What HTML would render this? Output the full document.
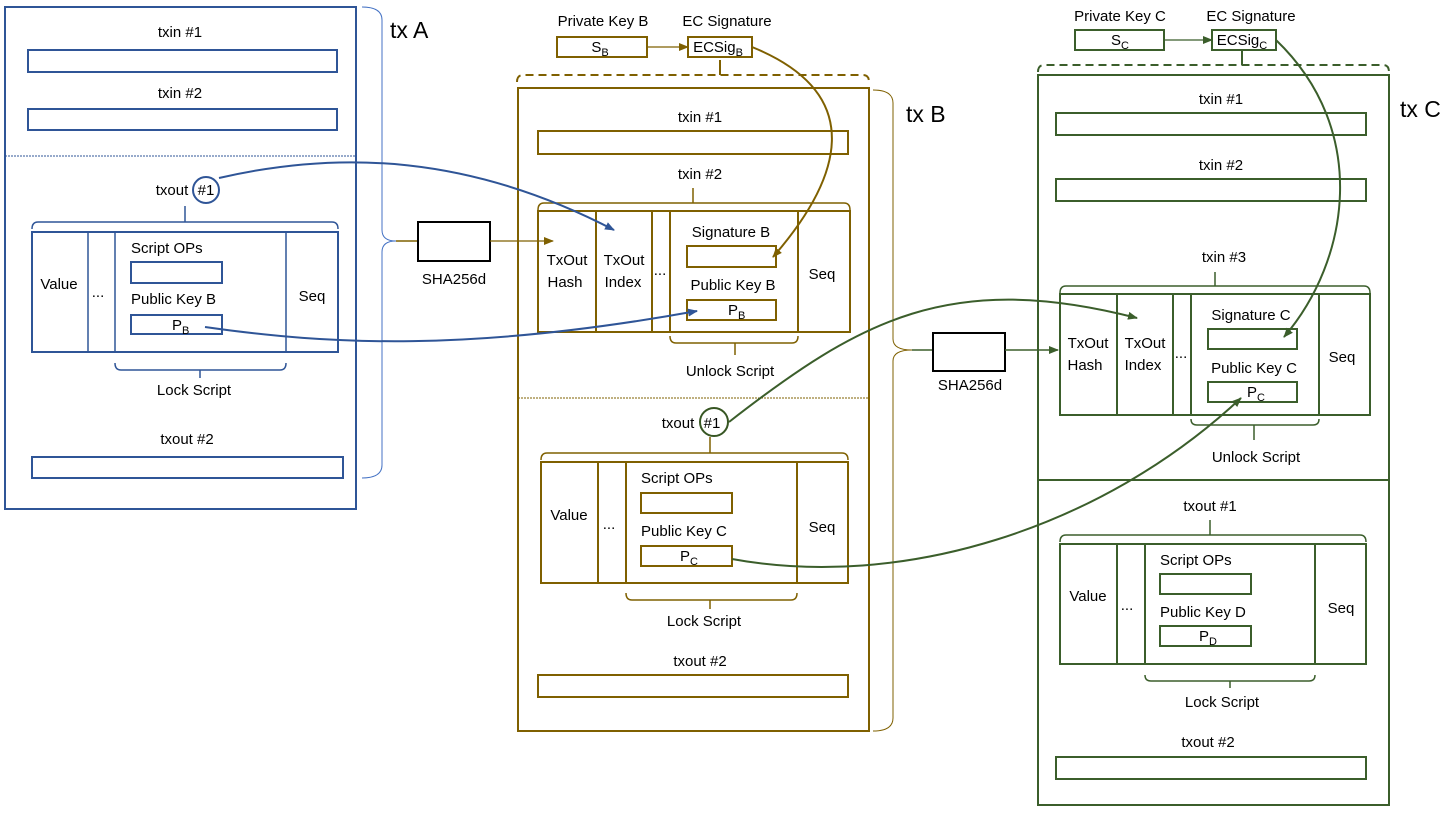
<!DOCTYPE html>
<html><head><meta charset="utf-8"><style>
html,body{margin:0;padding:0;background:#fff;}
svg{display:block;font-family:"Liberation Sans",sans-serif;}
text{font-size:15px;fill:#000;}
</style></head><body>
<svg width="1455" height="818" viewBox="0 0 1455 818" xmlns="http://www.w3.org/2000/svg">
<defs>
<marker id="ab" markerWidth="10" markerHeight="8" refX="9" refY="4" orient="auto" markerUnits="userSpaceOnUse"><path d="M0,0 L10,4 L0,8z" fill="#2F5597"/></marker>
<marker id="ag" markerWidth="10" markerHeight="8" refX="9" refY="4" orient="auto" markerUnits="userSpaceOnUse"><path d="M0,0 L10,4 L0,8z" fill="#7F6000"/></marker>
<marker id="an" markerWidth="10" markerHeight="8" refX="9" refY="4" orient="auto" markerUnits="userSpaceOnUse"><path d="M0,0 L10,4 L0,8z" fill="#3B5E2B"/></marker>
</defs>

<!-- ===== tx A (blue) ===== -->
<g fill="none" stroke="#2F5597" stroke-width="2">
<rect x="5" y="7" width="351" height="502"/>
<rect x="28" y="50" width="309" height="22"/>
<rect x="28" y="109" width="309" height="21"/>
<rect x="32" y="232" width="306" height="120"/>
<line x1="88" y1="232" x2="88" y2="352" stroke-width="1.5"/>
<line x1="115" y1="232" x2="115" y2="352" stroke-width="1.5"/>
<line x1="286" y1="232" x2="286" y2="352" stroke-width="1.5"/>
<rect x="131" y="262" width="91" height="21"/>
<rect x="131" y="315" width="91" height="19"/>
<rect x="32" y="457" width="311" height="21"/>
<circle cx="206" cy="190" r="13"/>
<path d="M32,229 Q32,222 38,222 L332,222 Q338,222 338,229" stroke-width="1.5"/>
<line x1="185" y1="222" x2="185" y2="206" stroke-width="1.5"/>
<path d="M115,363 Q115,370 121,370 L280,370 Q286,370 286,363" stroke-width="1.5"/>
<line x1="200" y1="370" x2="200" y2="378" stroke-width="1.5"/>
</g>
<line x1="5" y1="156" x2="356" y2="156" stroke="#2F5597" stroke-width="1" stroke-dasharray="2,1"/>
<path d="M362,7 Q382,7 382,20 L382,230 Q382,241 396,241 Q382,241 382,252 L382,465 Q382,478 362,478" fill="none" stroke="#4472C4" stroke-width="1"/>
<text x="180" y="37" text-anchor="middle">txin #1</text>
<text x="180" y="98" text-anchor="middle">txin #2</text>
<text x="172" y="195" text-anchor="middle">txout</text>
<text x="206" y="195" text-anchor="middle">#1</text>
<text x="59" y="289" text-anchor="middle">Value</text>
<text x="98" y="297" text-anchor="middle">...</text>
<text x="131" y="253">Script OPs</text>
<text x="131" y="304">Public Key B</text>
<text x="172" y="330">P<tspan font-size="11" dy="4">B</tspan></text>
<text x="312" y="301" text-anchor="middle">Seq</text>
<text x="194" y="395" text-anchor="middle">Lock Script</text>
<text x="187" y="444" text-anchor="middle">txout #2</text>
<text x="390" y="38" style="font-size:23px">tx A</text>

<!-- SHA A -->
<line x1="396" y1="241" x2="418" y2="241" stroke="#7F6000" stroke-width="1.5"/>
<rect x="418" y="222" width="72" height="39" fill="none" stroke="#000" stroke-width="2"/>
<text x="454" y="284" text-anchor="middle">SHA256d</text>
<line x1="490" y1="241" x2="553" y2="241" stroke="#7F6000" stroke-width="1.2" marker-end="url(#ag)"/>

<!-- ===== tx B (gold) ===== -->
<text x="603" y="26" text-anchor="middle">Private Key B</text>
<text x="727" y="26" text-anchor="middle">EC Signature</text>
<g fill="none" stroke="#7F6000" stroke-width="2">
<rect x="557" y="37" width="90" height="20"/>
<rect x="688" y="37" width="64" height="20"/>
<rect x="518" y="88" width="351" height="643"/>
<rect x="538" y="131" width="310" height="23"/>
<rect x="538" y="211" width="312" height="121"/>
<line x1="596" y1="211" x2="596" y2="332"/>
<line x1="652" y1="211" x2="652" y2="332"/>
<line x1="670" y1="211" x2="670" y2="332"/>
<line x1="798" y1="211" x2="798" y2="332"/>
<rect x="687" y="246" width="89" height="21"/>
<rect x="687" y="300" width="89" height="20"/>
<rect x="541" y="462" width="307" height="121"/>
<line x1="598" y1="462" x2="598" y2="583"/>
<line x1="626" y1="462" x2="626" y2="583"/>
<line x1="797" y1="462" x2="797" y2="583"/>
<rect x="641" y="493" width="91" height="20"/>
<rect x="641" y="546" width="91" height="20"/>
<rect x="538" y="675" width="310" height="22"/>
<path d="M517,82 Q517,75 523,75 L863,75 Q869,75 869,82" stroke-dasharray="8,5"/>
<line x1="720" y1="75" x2="720" y2="60"/>
<path d="M538,210 Q538,203 544,203 L844,203 Q850,203 850,210" stroke-width="1.5"/>
<line x1="693" y1="203" x2="693" y2="188" stroke-width="1.5"/>
<path d="M670,336 Q670,343 676,343 L792,343 Q798,343 798,336" stroke-width="1.5"/>
<line x1="735" y1="343" x2="735" y2="355" stroke-width="1.5"/>
<path d="M541,460 Q541,453 547,453 L842,453 Q848,453 848,460" stroke-width="1.5"/>
<line x1="710" y1="453" x2="710" y2="437" stroke-width="1.5"/>
<path d="M626,593 Q626,600 632,600 L791,600 Q797,600 797,593" stroke-width="1.5"/>
<line x1="710" y1="600" x2="710" y2="609" stroke-width="1.5"/>
</g>
<circle cx="714" cy="422" r="14" fill="none" stroke="#375623" stroke-width="2"/>
<line x1="518" y1="398" x2="869" y2="398" stroke="#7F6000" stroke-width="1" stroke-dasharray="2,1"/>
<path d="M873,90 Q893,90 893,103 L893,339 Q893,350 912,350 Q893,350 893,361 L893,718 Q893,731 873,731" fill="none" stroke="#7F6000" stroke-width="1"/>
<line x1="647" y1="47" x2="688" y2="47" stroke="#7F6000" stroke-width="1.2" marker-end="url(#ag)"/>
<text x="600" y="52" text-anchor="middle">S<tspan font-size="11" dy="4">B</tspan></text>
<text x="718" y="52" text-anchor="middle">ECSig<tspan font-size="11" dy="4">B</tspan></text>
<text x="700" y="122" text-anchor="middle">txin #1</text>
<text x="700" y="179" text-anchor="middle">txin #2</text>
<text x="567" y="265" text-anchor="middle">TxOut</text>
<text x="565" y="287" text-anchor="middle">Hash</text>
<text x="624" y="265" text-anchor="middle">TxOut</text>
<text x="623" y="287" text-anchor="middle">Index</text>
<text x="660" y="275" text-anchor="middle">...</text>
<text x="731" y="237" text-anchor="middle">Signature B</text>
<text x="733" y="290" text-anchor="middle">Public Key B</text>
<text x="728" y="315">P<tspan font-size="11" dy="4">B</tspan></text>
<text x="822" y="279" text-anchor="middle">Seq</text>
<text x="730" y="376" text-anchor="middle">Unlock Script</text>
<text x="678" y="428" text-anchor="middle">txout</text>
<text x="712" y="428" text-anchor="middle">#1</text>
<text x="569" y="520" text-anchor="middle">Value</text>
<text x="609" y="529" text-anchor="middle">...</text>
<text x="641" y="483">Script OPs</text>
<text x="641" y="536">Public Key C</text>
<text x="680" y="561">P<tspan font-size="11" dy="4">C</tspan></text>
<text x="822" y="532" text-anchor="middle">Seq</text>
<text x="704" y="626" text-anchor="middle">Lock Script</text>
<text x="700" y="666" text-anchor="middle">txout #2</text>
<text x="906" y="122" style="font-size:23px">tx B</text>

<!-- SHA B -->
<line x1="912" y1="350" x2="933" y2="350" stroke="#3B5E2B" stroke-width="1.5"/>
<rect x="933" y="333" width="72" height="38" fill="none" stroke="#000" stroke-width="2"/>
<text x="970" y="390" text-anchor="middle">SHA256d</text>
<line x1="1005" y1="350" x2="1058" y2="350" stroke="#3B5E2B" stroke-width="1.5" marker-end="url(#an)"/>

<!-- ===== tx C (green) ===== -->
<text x="1120" y="21" text-anchor="middle">Private Key C</text>
<text x="1251" y="21" text-anchor="middle">EC Signature</text>
<g fill="none" stroke="#3B5E2B" stroke-width="2">
<rect x="1075" y="30" width="89" height="20"/>
<rect x="1212" y="30" width="64" height="20"/>
<rect x="1038" y="75" width="351" height="730"/>
<rect x="1056" y="113" width="310" height="22"/>
<rect x="1056" y="179" width="310" height="22"/>
<rect x="1060" y="294" width="310" height="121"/>
<line x1="1117" y1="294" x2="1117" y2="415"/>
<line x1="1173" y1="294" x2="1173" y2="415"/>
<line x1="1191" y1="294" x2="1191" y2="415"/>
<line x1="1319" y1="294" x2="1319" y2="415"/>
<rect x="1208" y="329" width="89" height="20"/>
<rect x="1208" y="382" width="89" height="20"/>
<line x1="1038" y1="480" x2="1389" y2="480"/>
<rect x="1060" y="544" width="306" height="120"/>
<line x1="1117" y1="544" x2="1117" y2="664"/>
<line x1="1145" y1="544" x2="1145" y2="664"/>
<line x1="1315" y1="544" x2="1315" y2="664"/>
<rect x="1160" y="574" width="91" height="20"/>
<rect x="1160" y="626" width="91" height="20"/>
<rect x="1056" y="757" width="310" height="22"/>
<path d="M1038,72 Q1038,65 1044,65 L1383,65 Q1389,65 1389,72" stroke-dasharray="8,5"/>
<line x1="1242" y1="65" x2="1242" y2="51"/>
<path d="M1060,293 Q1060,286 1066,286 L1364,286 Q1370,286 1370,293" stroke-width="1.5"/>
<line x1="1215" y1="286" x2="1215" y2="272" stroke-width="1.5"/>
<path d="M1191,419 Q1191,425 1197,425 L1313,425 Q1319,425 1319,419" stroke-width="1.5"/>
<line x1="1254" y1="425" x2="1254" y2="440" stroke-width="1.5"/>
<path d="M1060,542 Q1060,535 1066,535 L1360,535 Q1366,535 1366,542" stroke-width="1.5"/>
<line x1="1210" y1="535" x2="1210" y2="520" stroke-width="1.5"/>
<path d="M1145,675 Q1145,681 1151,681 L1309,681 Q1315,681 1315,675" stroke-width="1.5"/>
<line x1="1230" y1="681" x2="1230" y2="688" stroke-width="1.5"/>
</g>
<line x1="1164" y1="40" x2="1212" y2="40" stroke="#3B5E2B" stroke-width="1.2" marker-end="url(#an)"/>
<text x="1120" y="45" text-anchor="middle">S<tspan font-size="11" dy="4">C</tspan></text>
<text x="1242" y="45" text-anchor="middle">ECSig<tspan font-size="11" dy="4">C</tspan></text>
<text x="1221" y="104" text-anchor="middle">txin #1</text>
<text x="1221" y="170" text-anchor="middle">txin #2</text>
<text x="1224" y="262" text-anchor="middle">txin #3</text>
<text x="1088" y="348" text-anchor="middle">TxOut</text>
<text x="1085" y="370" text-anchor="middle">Hash</text>
<text x="1145" y="348" text-anchor="middle">TxOut</text>
<text x="1143" y="370" text-anchor="middle">Index</text>
<text x="1181" y="358" text-anchor="middle">...</text>
<text x="1251" y="320" text-anchor="middle">Signature C</text>
<text x="1254" y="373" text-anchor="middle">Public Key C</text>
<text x="1247" y="397">P<tspan font-size="11" dy="4">C</tspan></text>
<text x="1342" y="362" text-anchor="middle">Seq</text>
<text x="1256" y="462" text-anchor="middle">Unlock Script</text>
<text x="1210" y="511" text-anchor="middle">txout #1</text>
<text x="1088" y="601" text-anchor="middle">Value</text>
<text x="1127" y="610" text-anchor="middle">...</text>
<text x="1160" y="565">Script OPs</text>
<text x="1160" y="617">Public Key D</text>
<text x="1199" y="641">P<tspan font-size="11" dy="4">D</tspan></text>
<text x="1341" y="613" text-anchor="middle">Seq</text>
<text x="1222" y="707" text-anchor="middle">Lock Script</text>
<text x="1208" y="747" text-anchor="middle">txout #2</text>
<text x="1400" y="117" style="font-size:23px">tx C</text>

<!-- connectors -->
<g fill="none" stroke-width="2">
<path d="M219,178 C340,150 470,155 614,230" stroke="#2F5597" marker-end="url(#ab)"/>
<path d="M205,327 C330,345 470,352 697,311" stroke="#2F5597" marker-end="url(#ab)"/>
<path d="M752,47 C870,95 840,180 773,257" stroke="#7F6000" marker-end="url(#ag)"/>
<path d="M729,422 C860,320 950,270 1137,318" stroke="#3B5E2B" marker-end="url(#an)"/>
<path d="M732,559 C900,590 1100,530 1241,398" stroke="#3B5E2B" marker-end="url(#an)"/>
<path d="M1276,40 C1370,130 1350,260 1284,337" stroke="#3B5E2B" marker-end="url(#an)"/>
</g>
</svg>
</body></html>
